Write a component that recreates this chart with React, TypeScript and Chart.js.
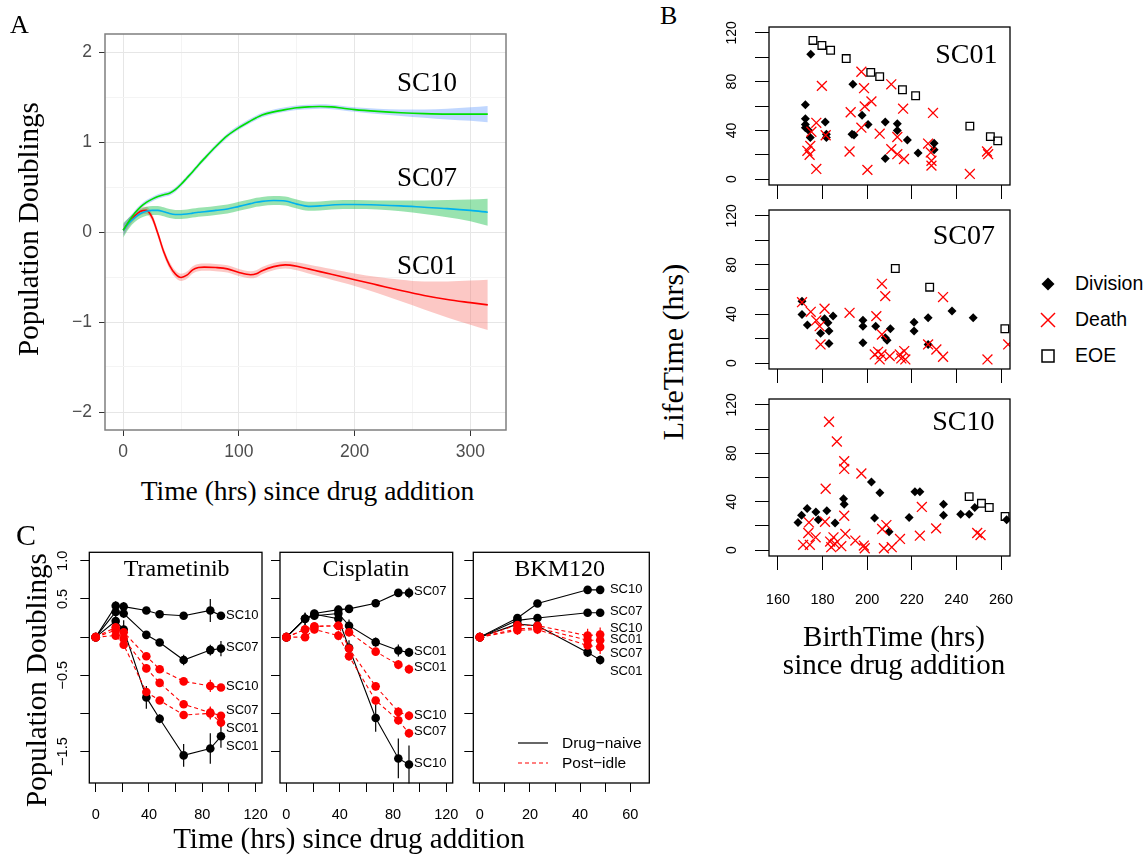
import React, { useEffect, useRef } from 'react';
import { Chart, registerables } from 'chart.js';

Chart.register(...registerables);

const SERIF = '"Liberation Serif", "Times New Roman", Times, serif';
const SANS = '"Liberation Sans", Arial, Helvetica, sans-serif';

// ---------------- Panel A: smoothed population doublings ----------------
const timeA = [0, 5, 10, 15, 20, 25, 30, 35, 40, 45, 50, 55, 60, 65, 70, 80, 90, 100, 110, 115, 120, 130, 140, 150, 160, 170, 180, 190, 200, 220, 240, 260, 280, 300, 315];
const sc10Fit = [0.02, 0.12, 0.21, 0.28, 0.33, 0.365, 0.395, 0.415, 0.43, 0.47, 0.53, 0.6, 0.67, 0.745, 0.815, 0.95, 1.07, 1.16, 1.235, 1.27, 1.3, 1.335, 1.36, 1.38, 1.39, 1.395, 1.39, 1.375, 1.36, 1.34, 1.325, 1.315, 1.31, 1.31, 1.31];
const sc10Se = [0.06, 0.04, 0.03, 0.025, 0.025, 0.025, 0.025, 0.025, 0.025, 0.025, 0.025, 0.025, 0.025, 0.025, 0.025, 0.025, 0.025, 0.025, 0.025, 0.025, 0.025, 0.025, 0.025, 0.025, 0.025, 0.025, 0.025, 0.025, 0.025, 0.03, 0.035, 0.045, 0.06, 0.075, 0.09];
const sc07Fit = [0.02, 0.1, 0.16, 0.205, 0.23, 0.24, 0.24, 0.225, 0.205, 0.195, 0.195, 0.2, 0.21, 0.22, 0.225, 0.24, 0.255, 0.285, 0.315, 0.33, 0.34, 0.35, 0.345, 0.31, 0.285, 0.29, 0.3, 0.305, 0.305, 0.3, 0.29, 0.275, 0.26, 0.24, 0.22];
const sc07Se = [0.08, 0.06, 0.05, 0.05, 0.05, 0.05, 0.05, 0.05, 0.05, 0.05, 0.05, 0.05, 0.05, 0.05, 0.05, 0.05, 0.05, 0.05, 0.05, 0.05, 0.05, 0.05, 0.05, 0.05, 0.05, 0.05, 0.05, 0.05, 0.05, 0.05, 0.06, 0.075, 0.095, 0.12, 0.15];
const sc01Fit = [0.02, 0.11, 0.18, 0.23, 0.24, 0.16, -0.02, -0.22, -0.37, -0.465, -0.505, -0.48, -0.42, -0.395, -0.39, -0.395, -0.41, -0.45, -0.475, -0.465, -0.43, -0.385, -0.365, -0.38, -0.41, -0.44, -0.47, -0.5, -0.53, -0.59, -0.65, -0.705, -0.75, -0.785, -0.81];
const sc01Se = [0.06, 0.05, 0.04, 0.04, 0.04, 0.04, 0.04, 0.04, 0.04, 0.04, 0.04, 0.04, 0.04, 0.04, 0.04, 0.04, 0.04, 0.04, 0.04, 0.04, 0.04, 0.04, 0.04, 0.045, 0.05, 0.055, 0.06, 0.065, 0.07, 0.09, 0.12, 0.155, 0.2, 0.245, 0.28];
const aXTicks = [0, 50, 100, 150, 200, 250, 300];
const aXLabels = [0, 100, 200, 300];
const aYTicks = [-2, -1.5, -1, -0.5, 0, 0.5, 1, 1.5, 2];
const aYLabels = [-2, -1, 0, 1, 2];

// ---------------- Panel B: birth time vs lifetime ----------------
const sc01Division = [[174.7, 102.4], [172.3, 61.1], [172.3, 49.5], [172.3, 44.9], [172.3, 42.2], [173.8, 40.0], [174.5, 34.1], [181.2, 46.8], [181.7, 36.8], [181.7, 34.1], [193.6, 77.8], [197.7, 52.4], [193.2, 36.8], [194.1, 36.2], [200.4, 44.9], [208.1, 46.8], [208.1, 17.0], [213.5, 45.4], [213.5, 40.0], [218.0, 32.2], [222.8, 21.4], [230.0, 29.5], [230.0, 24.1]];
const sc01Death = [[197.4, 88.1], [179.7, 76.5], [198.6, 74.6], [201.9, 63.8], [198.9, 59.7], [210.8, 77.8], [216.1, 57.8], [229.5, 54.3], [192.6, 54.9], [177.2, 46.2], [197.4, 42.2], [205.6, 37.3], [175.0, 38.9], [181.4, 36.0], [213.5, 34.6], [174.5, 27.3], [173.2, 23.2], [174.2, 20.0], [192.1, 22.7], [210.8, 24.6], [213.5, 20.5], [216.5, 16.5], [227.3, 29.2], [228.5, 21.9], [228.8, 15.1], [228.8, 11.1], [200.1, 7.6], [177.2, 8.4], [246.0, 4.3], [253.7, 22.7], [254.2, 20.5]];
const sc01EOE = [[175.7, 113.8], [179.7, 109.7], [183.6, 105.7], [190.6, 98.9], [201.6, 87.6], [205.6, 84.1], [215.8, 73.3], [221.7, 68.4], [246.0, 43.5], [255.2, 34.9], [258.5, 31.4]];

const sc07Division = [[170.8, 50.5], [170.8, 39.6], [173.2, 31.0], [179.1, 24.4], [180.9, 36.1], [182.4, 32.9], [182.9, 26.1], [182.9, 16.0], [184.7, 38.3], [198.1, 35.0], [198.1, 30.1], [198.1, 16.6], [203.8, 30.1], [208.1, 20.6], [208.9, 18.7], [210.4, 28.0], [221.0, 33.4], [221.0, 26.1], [227.3, 36.9], [227.3, 15.2], [238.0, 42.4], [247.5, 36.9]];
const sc07Death = [[170.8, 49.7], [174.7, 41.8], [180.9, 44.3], [177.2, 34.8], [178.7, 30.1], [179.1, 15.2], [192.1, 41.0], [204.1, 38.3], [206.6, 64.6], [208.1, 54.6], [206.6, 23.3], [203.4, 7.1], [204.9, 9.2], [206.4, 7.1], [205.6, 3.0], [210.1, 5.7], [214.6, 7.1], [216.6, 9.8], [215.3, 3.8], [217.1, 3.0], [227.3, 15.2], [231.0, 11.1], [234.0, 5.2], [234.0, 53.8], [253.9, 3.0], [263.2, 15.2]];
const sc07EOE = [[212.6, 77.1], [228.0, 61.9], [261.7, 28.0]];

const sc10Division = [[169.0, 22.9], [170.6, 28.9], [173.1, 34.4], [177.0, 31.6], [178.1, 25.1], [181.9, 32.5], [185.6, 22.4], [189.4, 42.5], [189.7, 37.9], [201.9, 56.2], [205.7, 47.4], [203.3, 26.5], [209.8, 15.3], [218.8, 27.0], [221.4, 48.3], [223.6, 48.3], [234.2, 37.9], [234.2, 28.9], [241.9, 29.7], [245.7, 29.7], [248.2, 35.2], [262.5, 25.1]];
const sc10Death = [[182.9, 106.0], [186.4, 89.7], [189.7, 73.4], [189.7, 67.1], [197.4, 63.3], [181.4, 50.7], [224.5, 35.7], [189.7, 28.4], [181.1, 23.5], [173.9, 22.9], [173.6, 14.2], [176.9, 10.6], [171.3, 4.4], [174.3, 4.4], [183.4, 7.1], [184.9, 10.6], [183.9, 2.5], [185.6, 5.2], [188.4, 3.3], [190.2, 13.4], [194.7, 7.9], [198.5, 3.8], [198.9, 1.6], [206.7, 17.5], [208.6, 20.7], [207.5, 1.6], [211.0, 2.5], [214.7, 9.3], [223.6, 12.0], [230.9, 18.0], [249.3, 14.2], [250.8, 12.5]];
const sc10EOE = [[245.7, 44.2], [251.2, 38.7], [254.7, 35.2], [261.8, 27.8]];

const bXTicks = [160, 180, 200, 220, 240, 260];
const bYTicks = [0, 20, 40, 60, 80, 100, 120];
const bYLabels = [0, 40, 80, 120];

// ---------------- Panel C: drug responses ----------------
const tramTimes = [0, 15, 21, 38, 48, 66, 86, 94];
const tramNaiveSC10 = [0, 0.41, 0.4, 0.35, 0.3, 0.28, 0.35, 0.28];
const tramNaiveSC07 = [0, 0.33, 0.31, 0.03, -0.07, -0.3, -0.17, -0.15];
const tramNaiveSC01 = [0, 0.21, 0.1, -0.79, -1.07, -1.55, -1.46, -1.3];
const tramNaiveErrSC10 = [0, 0.06, 0.06, 0.03, 0.03, 0.04, 0.15, 0.05];
const tramNaiveErrSC07 = [0, 0.05, 0.06, 0.04, 0.03, 0.07, 0.07, 0.1];
const tramNaiveErrSC01 = [0, 0.12, 0.12, 0.15, 0.06, 0.15, 0.2, 0.15];
const tramIdleSC10 = [0, 0.13, 0.065, -0.25, -0.42, -0.58, -0.64, -0.66];
const tramIdleSC07 = [0, 0.09, -0.02, -0.41, -0.6, -0.88, -0.99, -1.03];
const tramIdleSC01 = [0, 0.02, -0.1, -0.72, -0.83, -1.02, -1.0, -1.12];
const tramIdleErrSC10 = [0, 0.04, 0.04, 0.04, 0.04, 0.04, 0.08, 0.04];
const tramIdleErrSC07 = [0, 0.04, 0.04, 0.05, 0.04, 0.05, 0.08, 0.05];
const tramIdleErrSC01 = [0, 0.04, 0.05, 0.05, 0.04, 0.05, 0.08, 0.06];
const tramLabels: [string, number][] = [['SC10', 0.29], ['SC07', -0.14], ['SC10', -0.65], ['SC07', -0.96], ['SC01', -1.2], ['SC01', -1.43]];

const cisTimes = [0, 14, 21, 39, 47, 67, 84, 92];
const cisNaiveSC07 = [0, 0.24, 0.31, 0.36, 0.37, 0.445, 0.58, 0.58];
const cisNaiveSC01 = [0, 0.24, 0.28, 0.31, 0.15, -0.065, -0.175, -0.2];
const cisNaiveSC10 = [0, 0.24, 0.3, 0.24, -0.14, -1.06, -1.59, -1.67];
const cisNaiveErrSC07 = [0, 0.05, 0.05, 0.05, 0.04, 0.05, 0.05, 0.07];
const cisNaiveErrSC01 = [0, 0.08, 0.05, 0.08, 0.08, 0.06, 0.08, 0.06];
const cisNaiveErrSC10 = [0, 0.08, 0.05, 0.08, 0.1, 0.18, 0.26, 0.25];
const cisIdleSC01 = [0, 0.1, 0.14, 0.15, 0.065, -0.19, -0.36, -0.42];
const cisIdleSC10 = [0, 0.1, 0.14, 0.15, -0.15, -0.645, -0.98, -1.03];
const cisIdleSC07 = [0, 0.0, 0.1, 0.02, -0.25, -0.83, -1.09, -1.26];
const cisIdleErrSC01 = [0, 0.05, 0.05, 0.06, 0.06, 0.05, 0.06, 0.06];
const cisIdleErrSC10 = [0, 0.05, 0.05, 0.06, 0.06, 0.05, 0.06, 0.06];
const cisIdleErrSC07 = [0, 0.05, 0.05, 0.06, 0.06, 0.05, 0.06, 0.06];
const cisLabels: [string, number][] = [['SC07', 0.6], ['SC01', -0.19], ['SC01', -0.4], ['SC10', -1.02], ['SC07', -1.23], ['SC10', -1.65]];

const bkmTimes = [0, 15, 23, 43, 48];
const bkmNaiveSC10 = [0, 0.25, 0.44, 0.62, 0.62];
const bkmNaiveSC07 = [0, 0.22, 0.25, 0.32, 0.32];
const bkmNaiveSC01 = [0, 0.17, 0.15, -0.2, -0.3];
const bkmNaiveErrSC10 = [0, 0.04, 0.03, 0.03, 0.03];
const bkmNaiveErrSC07 = [0, 0.04, 0.03, 0.03, 0.03];
const bkmNaiveErrSC01 = [0, 0.05, 0.1, 0.06, 0.06];
const bkmIdleSC10 = [0, 0.16, 0.15, 0.02, 0.035];
const bkmIdleSC01 = [0, 0.11, 0.12, -0.04, -0.04];
const bkmIdleSC07 = [0, 0.09, 0.1, -0.11, -0.13];
const bkmIdleErr = [0, 0.06, 0.06, 0.09, 0.09];
const bkmLabels: [string, number][] = [['SC10', 0.63], ['SC07', 0.34], ['SC10', 0.11], ['SC01', -0.035], ['SC07', -0.22], ['SC01', -0.445]];

const cYTicks = [-1.5, -1, -0.5, 0, 0.5, 1];
const cYLabels = [1, 0.5, -0.5, -1.5];
const c120Ticks = [0, 20, 40, 60, 80, 100, 120];
const c120Labels = [0, 40, 80, 120];
const c60Ticks = [0, 10, 20, 30, 40, 50, 60];
const c60Labels = [0, 20, 40, 60];

// ---------------- helpers ----------------
type Geo = { left: number; top: number; width: number; height: number; area: { l: number; t: number; r: number; b: number } };

const minus = (v: number) => (v < 0 ? '\u2212' : '') + String(Math.abs(v));
const minus1 = (v: number) => (v < 0 ? '\u2212' : '') + Math.abs(v).toFixed(1);

function xAxis(o: any) {
  return {
    type: 'linear',
    position: 'bottom',
    min: o.min,
    max: o.max,
    afterBuildTicks: (s: any) => { s.ticks = o.ticks.map((v: number) => ({ value: v })); },
    afterFit: (s: any) => { s.height = o.size; s.paddingLeft = 0; s.paddingRight = 0; s.paddingTop = 0; s.paddingBottom = 0; },
    grid: {
      display: true,
      drawOnChartArea: !!o.gridColor,
      drawTicks: true,
      tickLength: o.tickLength,
      color: o.gridColor || '#000',
      lineWidth: 1,
      tickColor: o.tickColor || '#000',
      tickWidth: 1,
    },
    border: { display: false },
    ticks: {
      display: !!o.labels,
      autoSkip: false,
      maxRotation: 0,
      minRotation: 0,
      padding: o.padding || 0,
      color: o.labelColor || '#000',
      font: { family: SANS, size: o.fontSize || 14 },
      callback: (v: number) => (o.labels && o.labels.includes(v) ? o.fmt(v) : ''),
    },
  };
}

function yAxis(o: any) {
  return {
    type: 'linear',
    position: 'left',
    min: o.min,
    max: o.max,
    afterBuildTicks: (s: any) => { s.ticks = o.ticks.map((v: number) => ({ value: v })); },
    afterFit: (s: any) => { s.width = o.size; s.paddingLeft = 0; s.paddingRight = 0; s.paddingTop = 0; s.paddingBottom = 0; },
    grid: {
      display: true,
      drawOnChartArea: !!o.gridColor,
      drawTicks: true,
      tickLength: o.tickLength,
      color: o.gridColor || '#000',
      lineWidth: 1,
      tickColor: o.tickColor || '#000',
      tickWidth: 1,
    },
    border: { display: false },
    ticks: {
      display: !!o.labels,
      autoSkip: false,
      padding: o.padding || 0,
      color: o.labelColor || '#000',
      font: { family: SANS, size: o.fontSize || 14 },
      callback: (v: number) => (o.labels && o.labels.includes(v) ? o.fmt(v) : ''),
    },
  };
}

function baseOptions(geo: Geo, scales: any) {
  return {
    responsive: false,
    maintainAspectRatio: false,
    animation: false,
    devicePixelRatio: 1,
    events: [],
    layout: {
      autoPadding: false,
      padding: { left: 0, top: geo.area.t - geo.top, right: geo.left + geo.width - geo.area.r, bottom: 0 },
    },
    plugins: { legend: { display: false }, tooltip: { enabled: false }, title: { display: false } },
    scales,
  };
}

const boxPlugin = (color: string, width: number) => ({
  id: 'rbox',
  afterDraw(chart: any) {
    const a = chart.chartArea;
    const ctx = chart.ctx;
    ctx.save();
    ctx.strokeStyle = color;
    ctx.lineWidth = width;
    ctx.setLineDash([]);
    ctx.strokeRect(a.left, a.top, a.right - a.left, a.bottom - a.top);
    ctx.restore();
  },
});

const yRotPlugin = (xPx: number, vals: number[], fmt: (v: number) => string, font: string) => ({
  id: 'yrot',
  afterDraw(chart: any) {
    const s = chart.scales.y;
    const ctx = chart.ctx;
    ctx.save();
    ctx.font = font;
    ctx.fillStyle = '#000';
    ctx.textAlign = 'center';
    ctx.textBaseline = 'middle';
    vals.forEach((v) => {
      const py = s.getPixelForValue(v);
      ctx.save();
      ctx.translate(xPx, py);
      ctx.rotate(-Math.PI / 2);
      ctx.fillText(fmt(v), 0, 0);
      ctx.restore();
    });
    ctx.restore();
  },
});

const errPlugin = {
  id: 'errbars',
  beforeDatasetsDraw(chart: any) {
    const ctx = chart.ctx;
    const ys = chart.scales.y;
    ctx.save();
    chart.data.datasets.forEach((ds: any, i: number) => {
      if (!ds.errs) return;
      const meta = chart.getDatasetMeta(i);
      ctx.strokeStyle = ds.borderColor;
      ctx.lineWidth = 1.2;
      ctx.setLineDash([]);
      meta.data.forEach((pt: any, j: number) => {
        const e = ds.errs[j];
        if (!e) return;
        const v = ds.data[j].y;
        ctx.beginPath();
        ctx.moveTo(pt.x, ys.getPixelForValue(v - e));
        ctx.lineTo(pt.x, ys.getPixelForValue(v + e));
        ctx.stroke();
      });
    });
    ctx.restore();
  },
};

const sideLabelPlugin = (x: number, items: [string, number][]) => ({
  id: 'sidelabels',
  afterDraw(chart: any) {
    const ctx = chart.ctx;
    const xs = chart.scales.x;
    const ys = chart.scales.y;
    ctx.save();
    ctx.font = `13px ${SANS}`;
    ctx.fillStyle = '#000';
    ctx.textAlign = 'left';
    ctx.textBaseline = 'middle';
    items.forEach(([t, y]) => ctx.fillText(t, xs.getPixelForValue(x), ys.getPixelForValue(y)));
    ctx.restore();
  },
});

function ChartBox({ geo, make }: { geo: Geo; make: () => any }) {
  const ref = useRef<HTMLCanvasElement | null>(null);
  useEffect(() => {
    const chart = new Chart(ref.current as HTMLCanvasElement, make());
    return () => chart.destroy();
  }, []);
  return (
    <canvas
      ref={ref}
      width={geo.width}
      height={geo.height}
      style={{ position: 'absolute', left: geo.left, top: geo.top, width: geo.width, height: geo.height }}
    />
  );
}

// ---------------- chart configs ----------------
const geoA: Geo = { left: 0, top: 0, width: 520, height: 475, area: { l: 105, t: 34, r: 506, b: 430 } };

function makeA() {
  const series = [
    { fit: sc10Fit, se: sc10Se, line: '#00e000', band: 'rgba(97,156,255,0.4)' },
    { fit: sc07Fit, se: sc07Se, line: '#00b2ee', band: 'rgba(0,186,56,0.4)' },
    { fit: sc01Fit, se: sc01Se, line: '#ff0000', band: 'rgba(248,118,109,0.4)' },
  ];
  const datasets: any[] = [];
  series.forEach((s) => {
    datasets.push({
      data: timeA.map((t, i) => ({ x: t, y: s.fit[i] + s.se[i] })),
      borderWidth: 0, borderColor: 'rgba(0,0,0,0)', pointRadius: 0, fill: false,
      cubicInterpolationMode: 'monotone', order: 2,
    });
    datasets.push({
      data: timeA.map((t, i) => ({ x: t, y: s.fit[i] - s.se[i] })),
      borderWidth: 0, borderColor: 'rgba(0,0,0,0)', pointRadius: 0, fill: '-1', backgroundColor: s.band,
      cubicInterpolationMode: 'monotone', order: 2,
    });
  });
  series.forEach((s) => {
    datasets.push({
      data: timeA.map((t, i) => ({ x: t, y: s.fit[i] })),
      borderColor: s.line, borderWidth: 1.6, pointRadius: 0, fill: false,
      cubicInterpolationMode: 'monotone', order: 1,
    });
  });
  const majX = (ctx: any) => aXLabels.includes(ctx.tick && ctx.tick.value);
  const majY = (ctx: any) => aYLabels.includes(ctx.tick && ctx.tick.value);
  const scales = {
    x: xAxis({
      min: -15.75, max: 330.75, ticks: aXTicks, labels: aXLabels, fmt: minus, size: geoA.top + geoA.height - geoA.area.b,
      tickLength: 6, padding: 5.5, fontSize: 17.5, labelColor: '#4d4d4d',
      gridColor: (c: any) => (majX(c) ? '#e6e6e6' : '#f4f4f4'),
      tickColor: (c: any) => (majX(c) ? '#333333' : 'rgba(0,0,0,0)'),
    }),
    y: yAxis({
      min: -2.2, max: 2.2, ticks: aYTicks, labels: aYLabels, fmt: minus, size: geoA.area.l - geoA.left,
      tickLength: 6, padding: 7, fontSize: 17.5, labelColor: '#4d4d4d',
      gridColor: (c: any) => (majY(c) ? '#e6e6e6' : '#f4f4f4'),
      tickColor: (c: any) => (majY(c) ? '#333333' : 'rgba(0,0,0,0)'),
    }),
  };
  return {
    type: 'line',
    data: { datasets },
    options: baseOptions(geoA, scales),
    plugins: [boxPlugin('#7f7f7f', 1.5)],
  };
}

const geoB1: Geo = { left: 700, top: 5, width: 320, height: 195, area: { l: 769, t: 27, r: 1010, b: 185 } };
const geoB2: Geo = { left: 700, top: 200, width: 320, height: 185, area: { l: 769, t: 210, r: 1010, b: 369 } };
const geoB3: Geo = { left: 700, top: 390, width: 320, height: 230, area: { l: 769, t: 399, r: 1010, b: 556 } };

function makeB(geo: Geo, division: number[][], death: number[][], eoe: number[][], showX: boolean) {
  const pts = (arr: number[][]) => arr.map(([x, y]) => ({ x, y }));
  const datasets = [
    { data: pts(eoe), pointStyle: 'rect', pointRadius: 5.4, pointBackgroundColor: 'rgba(0,0,0,0)', pointBorderColor: '#000', pointBorderWidth: 1.3, order: 0 },
    { data: pts(death), pointStyle: 'crossRot', pointRadius: 7, pointBorderColor: '#ff0000', pointBackgroundColor: '#ff0000', pointBorderWidth: 1.3, order: 1 },
    { data: pts(division), pointStyle: 'rectRot', pointRadius: 4.5, pointBackgroundColor: '#000', pointBorderColor: '#000', pointBorderWidth: 0, order: 2 },
  ];
  const scales = {
    x: xAxis({
      min: 156, max: 264, ticks: bXTicks, labels: showX ? bXTicks : null, fmt: minus,
      size: geo.top + geo.height - geo.area.b, tickLength: 14, padding: 21.3, fontSize: 14.5,
    }),
    y: yAxis({ min: -4.8, max: 124.8, ticks: bYTicks, labels: null, size: geo.area.l - geo.left, tickLength: 14 }),
  };
  return {
    type: 'scatter',
    data: { datasets },
    options: baseOptions(geo, scales),
    plugins: [boxPlugin('#000', 1.3), yRotPlugin(731.7 - geo.left, bYLabels, minus, `14px ${SANS}`)],
  };
}

const geoC1: Geo = { left: 40, top: 540, width: 230, height: 290, area: { l: 89.3, t: 552.3, r: 262, b: 783 } };
const geoC2: Geo = { left: 270, top: 540, width: 190, height: 290, area: { l: 280, t: 552.3, r: 452.7, b: 783 } };
const geoC3: Geo = { left: 462, top: 540, width: 195, height: 290, area: { l: 473.3, t: 552.3, r: 649.3, b: 783 } };

function makeC(
  geo: Geo, times: number[], naive: number[][], naiveErr: number[][], idle: number[][], idleErr: number[][],
  labels: [string, number][], labelX: number, xr: [number, number], xTicks: number[], xLabels: number[], showY: boolean,
) {
  const datasets: any[] = [];
  naive.forEach((vals, k) => {
    datasets.push({
      data: times.map((t, i) => ({ x: t, y: vals[i] })), errs: naiveErr[k],
      borderColor: '#000000', backgroundColor: '#000000', pointBackgroundColor: '#000000', pointBorderColor: '#000000',
      pointRadius: 4.3, pointBorderWidth: 0, borderWidth: 1.1, fill: false, tension: 0, order: 2,
    });
  });
  idle.forEach((vals, k) => {
    datasets.push({
      data: times.map((t, i) => ({ x: t, y: vals[i] })), errs: idleErr[k],
      borderColor: '#ff0000', backgroundColor: '#ff0000', pointBackgroundColor: '#ff0000', pointBorderColor: '#ff0000',
      pointRadius: 4.3, pointBorderWidth: 0, borderWidth: 1.1, borderDash: [4, 3], fill: false, tension: 0, order: 1,
    });
  });
  const scales = {
    x: xAxis({
      min: xr[0], max: xr[1], ticks: xTicks, labels: xLabels, fmt: minus,
      size: geo.top + geo.height - geo.area.b, tickLength: 9, padding: 14.3, fontSize: 14.5,
    }),
    y: yAxis({ min: -1.912, max: 1.112, ticks: cYTicks, labels: null, size: geo.area.l - geo.left, tickLength: 9 }),
  };
  const plugins: any[] = [errPlugin, boxPlugin('#000', 1.3), sideLabelPlugin(labelX, labels)];
  if (showY) plugins.push(yRotPlugin(63 - geo.left, cYLabels, minus1, `14.5px ${SANS}`));
  return {
    type: 'line',
    data: { datasets },
    options: baseOptions(geo, scales),
    plugins,
  };
}

// ---------------- text helper ----------------
function Txt({ x, y, size, serif = true, anchor = 'left', rotate = false, children }: any) {
  const tx = anchor === 'left' ? '0' : anchor === 'right' ? '-100%' : '-50%';
  return (
    <div
      style={{
        position: 'absolute', left: x, top: y, fontSize: size, lineHeight: 1,
        fontFamily: serif ? SERIF : SANS, color: '#000', whiteSpace: 'nowrap',
        transform: rotate ? 'translate(-50%, -50%) rotate(-90deg)' : `translate(${tx}, -50%)`,
      }}
    >
      {children}
    </div>
  );
}

export default function App() {
  return (
    <div style={{ position: 'absolute', left: 0, top: 0, width: 1146, height: 856, background: '#fff', overflow: 'hidden' }}>
      <ChartBox geo={geoA} make={makeA} />
      <ChartBox geo={geoB1} make={() => makeB(geoB1, sc01Division, sc01Death, sc01EOE, false)} />
      <ChartBox geo={geoB2} make={() => makeB(geoB2, sc07Division, sc07Death, sc07EOE, false)} />
      <ChartBox geo={geoB3} make={() => makeB(geoB3, sc10Division, sc10Death, sc10EOE, true)} />
      <ChartBox
        geo={geoC1}
        make={() => makeC(geoC1, tramTimes, [tramNaiveSC10, tramNaiveSC07, tramNaiveSC01], [tramNaiveErrSC10, tramNaiveErrSC07, tramNaiveErrSC01],
          [tramIdleSC10, tramIdleSC07, tramIdleSC01], [tramIdleErrSC10, tramIdleErrSC07, tramIdleErrSC01], tramLabels, 97.8, [-4.8, 124.8], c120Ticks, c120Labels, true)}
      />
      <ChartBox
        geo={geoC2}
        make={() => makeC(geoC2, cisTimes, [cisNaiveSC07, cisNaiveSC01, cisNaiveSC10], [cisNaiveErrSC07, cisNaiveErrSC01, cisNaiveErrSC10],
          [cisIdleSC01, cisIdleSC10, cisIdleSC07], [cisIdleErrSC01, cisIdleErrSC10, cisIdleErrSC07], cisLabels, 95.8, [-4.8, 124.8], c120Ticks, c120Labels, false)}
      />
      <ChartBox
        geo={geoC3}
        make={() => makeC(geoC3, bkmTimes, [bkmNaiveSC10, bkmNaiveSC07, bkmNaiveSC01], [bkmNaiveErrSC10, bkmNaiveErrSC07, bkmNaiveErrSC01],
          [bkmIdleSC10, bkmIdleSC01, bkmIdleSC07], [bkmIdleErr, bkmIdleErr, bkmIdleErr], bkmLabels, 51.9, [-2.6, 67.6], c60Ticks, c60Labels, false)}
      />

      {/* Panel A texts */}
      <Txt x={10} y={25} size={26}>A</Txt>
      <Txt x={28} y={229} size={29} rotate>Population Doublings</Txt>
      <Txt x={307.5} y={491} size={27.5} anchor="center">Time (hrs) since drug addition</Txt>
      <Txt x={397} y={82} size={27}>SC10</Txt>
      <Txt x={397} y={177} size={27}>SC07</Txt>
      <Txt x={397} y={265} size={27}>SC01</Txt>

      {/* Panel B texts */}
      <Txt x={660} y={16} size={26}>B</Txt>
      <Txt x={997.5} y={54} size={28} anchor="right">SC01</Txt>
      <Txt x={995} y={235} size={28} anchor="right">SC07</Txt>
      <Txt x={994.5} y={421} size={28} anchor="right">SC10</Txt>
      <Txt x={673} y={352} size={30} rotate>LifeTime (hrs)</Txt>
      <Txt x={894} y={636} size={29} anchor="center">BirthTime (hrs)</Txt>
      <Txt x={894} y={664} size={29} anchor="center">since drug addition</Txt>
      <Txt x={1075} y={284} size={19.5} serif={false}>Division</Txt>
      <Txt x={1075} y={320} size={19.5} serif={false}>Death</Txt>
      <Txt x={1075} y={356} size={19.5} serif={false}>EOE</Txt>

      {/* Panel C texts */}
      <Txt x={16} y={535} size={30}>C</Txt>
      <Txt x={35.5} y={680} size={29} rotate>Population Doublings</Txt>
      <Txt x={349} y={838} size={29} anchor="center">Time (hrs) since drug addition</Txt>
      <Txt x={176.7} y={568} size={24} anchor="center">Trametinib</Txt>
      <Txt x={365.8} y={568} size={24} anchor="center">Cisplatin</Txt>
      <Txt x={559.7} y={568} size={24} anchor="center">BKM120</Txt>
      <Txt x={562} y={743} size={15.5} serif={false}>Drug−naive</Txt>
      <Txt x={562} y={763} size={15.5} serif={false}>Post−idle</Txt>

      <svg width={1146} height={856} style={{ position: 'absolute', left: 0, top: 0, pointerEvents: 'none' }}>
        <polygon points="1041.5,284 1048,277.5 1054.5,284 1048,290.5" fill="#000" />
        <line x1={1041} y1={313} x2={1055} y2={327} stroke="#ff0000" strokeWidth={1.5} />
        <line x1={1041} y1={327} x2={1055} y2={313} stroke="#ff0000" strokeWidth={1.5} />
        <rect x={1042} y={350} width={12} height={12} fill="none" stroke="#000" strokeWidth={1.5} />
        <line x1={518} y1={743} x2={548} y2={743} stroke="#000" strokeWidth={1.2} />
        <line x1={518} y1={763} x2={548} y2={763} stroke="#ff0000" strokeWidth={1.2} strokeDasharray="4 3" />
      </svg>
    </div>
  );
}
